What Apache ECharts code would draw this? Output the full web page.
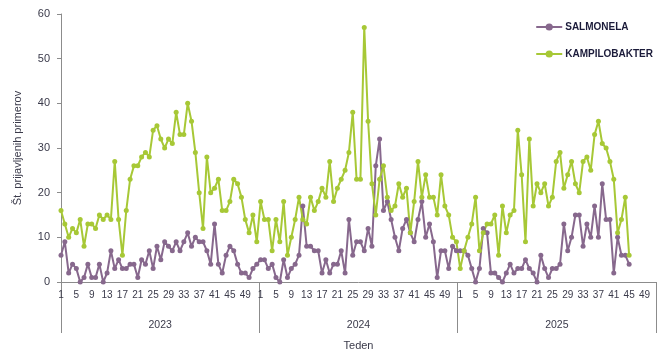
<!DOCTYPE html>
<html>
<head>
<meta charset="utf-8">
<script src="https://cdn.jsdelivr.net/npm/echarts@6/dist/echarts.min.js"></script>
<style>
html,body{margin:0;padding:0;background:#fff;}
#c{width:670px;height:356px;}
</style>
</head>
<body>
<div id="c"></div>
<script>
// Years and weeks (categories)
const years = ['2023', '2024', '2025'];
const weeksPerYear = 52;

// SALMONELA weekly counts
const salmonela2023 = [6,9,2,4,3,0,1,4,1,1, 4,0,2,7,3,5,3,3,4,4, 1,5,4,7,3,8,5,9,8,7, 9,7,9,11,8,10,9,9,7,4, 13,4,2,6,8,7,4,2,2,1, 3,4];
const salmonela2024 = [5,5,3,4,1,0,5,1,3,4, 6,17,8,8,7,7,2,5,2,4, 4,7,2,14,6,9,9,7,12,8, 26,32,16,18,14,10,7,12,14,11, 9,14,18,10,13,9,1,7,7,3, 8,7];
const salmonela2025 = [7,7,6,3,0,3,12,11,2,2, 1,0,2,4,2,3,3,5,3,2, 0,6,3,1,3,3,4,13,7,10, 15,15,8,13,10,17,10,22,14,14, 2,10,6,6,4];

// KAMPILOBAKTER weekly counts
const kampilo2023 = [16,13,10,12,11,14,8,13,13,12, 15,14,15,14,27,14,6,16,23,26, 26,28,29,28,34,35,32,30,32,31, 38,33,33,40,36,29,20,12,28,20, 21,23,16,16,18,23,22,19,14,11, 15,9];
const kampilo2024 = [18,14,14,7,14,9,18,6,10,14, 19,14,13,19,16,18,21,19,27,18, 21,23,25,29,38,23,23,57,36,22, 15,23,26,19,16,17,22,19,21,11, 18,27,19,24,19,19,15,24,17,15, 10,9];
const kampilo2025 = [3,7,10,13,19,7,11,13,13,15, 6,17,11,15,16,34,24,9,32,17, 22,20,22,17,19,27,29,21,24,27, 22,20,27,28,25,33,36,31,30,27, 23,11,14,19,6];

// Y tick values
const yTicks = [0,10,20,30,40,50,60];

// Build categories: week numbers for each year
const weekCats = [];
years.forEach(function(){ for (let w = 1; w <= weeksPerYear; w++) weekCats.push(String(w)); });

function pad(arr){ const a = arr.slice(); while (a.length < weeksPerYear) a.push(null); return a; }
const salData = [].concat(pad(salmonela2023), pad(salmonela2024), pad(salmonela2025));
const kamData = [].concat(pad(kampilo2023), pad(kampilo2024), pad(kampilo2025));

const purple = '#87688D';
const green = '#A7C836';
const txt = '#3a3a4a';
const axisCol = '#8c8c8c';
const font = 'Liberation Sans';

const chart = echarts.init(document.getElementById('c'), null, {renderer:'canvas'});
chart.setOption({
  animation: false,
  textStyle: {fontFamily: font},
  grid: {left: 61, right: 14, top: 14, bottom: 72},
  legend: {
    orient: 'vertical', right: 12, top: 17, itemGap: 17,
    itemWidth: 26, itemHeight: 9,
    textStyle: {fontFamily: font, fontSize: 10, fontWeight: 'bold', color: '#1b1b3a', padding: [0,0,0,-2]},
    data: ['SALMONELA', 'KAMPILOBAKTER']
  },
  xAxis: [{
    type: 'category',
    data: weekCats,
    boundaryGap: false,
    axisLine: {show: true, lineStyle: {color: axisCol, width: 1}},
    axisTick: {show: false},
    axisLabel: {
      interval: function(i){ return (i % weeksPerYear) % 4 === 0; },
      color: txt, fontSize: 10, margin: 8, fontFamily: font
    },
    splitLine: {show: false}
  }, {
    type: 'category',
    data: years,
    position: 'bottom',
    boundaryGap: true,
    axisLine: {show: false},
    axisTick: {show: true, length: 51, lineStyle: {color: axisCol, width: 1}},
    axisLabel: {color: txt, fontSize: 10.5, margin: 38, fontFamily: font},
    name: 'Teden', nameLocation: 'middle', nameGap: 58,
    nameTextStyle: {color: txt, fontSize: 11, fontFamily: font},
    splitLine: {show: false}
  }],
  yAxis: {
    type: 'value', min: yTicks[0], max: yTicks[yTicks.length-1], interval: 10,
    axisLine: {show: true, lineStyle: {color: axisCol, width: 1}},
    axisTick: {show: true, length: 4, lineStyle: {color: axisCol}},
    axisLabel: {color: txt, fontSize: 11, margin: 11, fontFamily: font},
    splitLine: {show: false},
    name: 'Št. prijavljenih primerov', nameLocation: 'middle', nameGap: 38,
    nameTextStyle: {color: txt, fontSize: 11, fontFamily: font}
  },
  series: [{
    name: 'SALMONELA', type: 'line', data: salData, xAxisIndex: 0,
    symbol: 'circle', symbolSize: 5, showSymbol: true, showAllSymbol: true,
    lineStyle: {color: purple, width: 2}, itemStyle: {color: purple},
    connectNulls: false
  }, {
    name: 'KAMPILOBAKTER', type: 'line', data: kamData, xAxisIndex: 0,
    symbol: 'circle', symbolSize: 5, showSymbol: true, showAllSymbol: true,
    lineStyle: {color: green, width: 2}, itemStyle: {color: green},
    connectNulls: false
  }]
});
</script>
</body>
</html>
